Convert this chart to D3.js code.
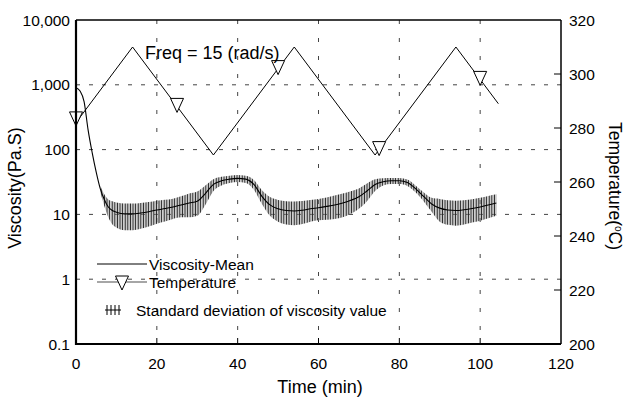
<!DOCTYPE html>
<html>
<head>
<meta charset="utf-8">
<script src="https://cdn.jsdelivr.net/npm/d3@7/dist/d3.min.js"></script>
<style>
  html, body { margin: 0; padding: 0; background: #fff; }
  svg { display: block; font-family: "Liberation Sans", Arial, sans-serif; }
</style>
</head>
<body>
<svg id="chart" width="626" height="397"></svg>
<script>
// Time samples (min) for the viscosity series
const timeMin = [0,1,2,3,4,5,6,7,8,9,10,12,14,16,18,20,22,24,26,28,30,32,34,36,38,40,42,44,46,48,50,52,54,56,58,60,62,64,66,68,70,72,74,76,78,80,82,84,86,88,90,92,94,96,98,100,102,104];
// Mean viscosity (Pa.S)
const viscMean = [900,800,550,200,90,45,25,17,13,11.5,10.8,10.2,10.2,10.5,11,11.7,12.3,13,14,15,16,21,29,33,35,36,35,29,19,14,12.2,11.5,11.3,11.6,12.2,12.7,13.3,14,15,16.5,18.7,23,29,32,33,33,31,25,19,14.5,12.5,11.7,11.5,11.8,12.3,13,14,15];
// Standard deviation of viscosity (Pa.S)
const viscSD = [0,0,0,0,0,0,3,3.5,4,4.5,4.5,4.5,4.5,4.5,4.5,4.5,4.5,4.5,5,6,6.5,7,6,5,4.5,4.5,4.5,5,4.5,4.5,4.5,4.5,4.5,4.5,4.5,4.6,5,5.5,6,6.3,6.5,7,6,4,3.5,3.5,3.5,3,3,3.5,4.8,4.8,4.8,4.8,4.8,5,5.3,5.5];

// Temperature programme: triangle ramp (min, °C)
const tempTime = [0,14,34,54,74,94,104.5];
const tempVal  = [282,310,270,310,270,310,289];
// Temperature marker readings
const markTime = [0,25,50,75,100];
const markTemp = [283,288,302,272,298];

const xTicks = [0,20,40,60,80,100,120];
const yLeftTicks = [0.1,1,10,100,1000,10000];
const yRightTicks = [200,220,240,260,280,300,320];

const svg = d3.select("#chart");
const L = 76, R = 561, T = 20, B = 344;

const x = d3.scaleLinear().domain([0,120]).range([L,R]);
const yV = d3.scaleLog().domain([0.1,10000]).range([B,T]);
const yT = d3.scaleLinear().domain([200,320]).range([B,T]);

// vertical hatch pattern for the deviation band
const defs = svg.append("defs");
const pat = defs.append("pattern").attr("id","hatch")
  .attr("patternUnits","userSpaceOnUse").attr("width",2.6).attr("height",10);
pat.append("rect").attr("x",0).attr("y",0).attr("width",0.9).attr("height",10).attr("fill","#222");
pat.append("rect").attr("x",1.4).attr("y",0).attr("width",0.8).attr("height",10).attr("fill","#8a8a8a");

// gridlines
const grid = svg.append("g");
grid.selectAll(".hg").data(yLeftTicks.slice(1,-1)).join("line")
  .attr("x1",L).attr("x2",R).attr("y1",d=>yV(d)).attr("y2",d=>yV(d))
  .attr("stroke","#444").attr("stroke-width",1).attr("stroke-dasharray","4,9");
grid.selectAll(".vg").data(xTicks.slice(1,-1)).join("line")
  .attr("x1",d=>x(d)).attr("x2",d=>x(d)).attr("y1",T).attr("y2",B)
  .attr("stroke","#444").attr("stroke-width",1).attr("stroke-dasharray","4,14");

// deviation band
const bandData = timeMin.map((t,i)=>({t, m:viscMean[i], s:viscSD[i]})).filter(d=>d.s>0);
const band = d3.area()
  .x(d=>x(d.t))
  .y0(d=>yV(Math.max(0.1,d.m-d.s)))
  .y1(d=>yV(d.m+d.s))
  .curve(d3.curveMonotoneX);
svg.append("path").datum(bandData).attr("d",band).attr("fill","url(#hatch)");

// mean viscosity
const meanLine = d3.line().x((d,i)=>x(timeMin[i])).y(d=>yV(d)).curve(d3.curveMonotoneX);
svg.append("path").datum(viscMean).attr("d",meanLine)
  .attr("fill","none").attr("stroke","#000").attr("stroke-width",1.1);

// temperature ramp
const tLine = d3.line().x((d,i)=>x(tempTime[i])).y(d=>yT(d));
svg.append("path").datum(tempVal).attr("d",tLine)
  .attr("fill","none").attr("stroke","#000").attr("stroke-width",1);

// down-pointing triangle markers
function tri(cx, cy){
  return `M${cx-6.5},${cy-8}L${cx+6.5},${cy-8}L${cx},${cy+6}Z`;
}
svg.selectAll(".mk").data(markTime).join("path")
  .attr("d",(d,i)=>tri(x(d), yT(markTemp[i])))
  .attr("fill","#fff").attr("stroke","#000").attr("stroke-width",1);

// ticks inside the frame
svg.selectAll(".bt").data(xTicks.slice(1,-1)).join("line")
  .attr("x1",d=>x(d)).attr("x2",d=>x(d)).attr("y1",B).attr("y2",B-6)
  .attr("stroke","#000").attr("stroke-width",1);
svg.selectAll(".rt").data(yRightTicks.slice(1,-1)).join("line")
  .attr("x1",R).attr("x2",R-7).attr("y1",d=>yT(d)).attr("y2",d=>yT(d))
  .attr("stroke","#000").attr("stroke-width",1);

// frame
svg.append("line").attr("x1",L).attr("x2",R).attr("y1",T).attr("y2",T).attr("stroke","#000").attr("stroke-width",1.5);
svg.append("line").attr("x1",R).attr("x2",R).attr("y1",T).attr("y2",B).attr("stroke","#000").attr("stroke-width",1.5);
svg.append("line").attr("x1",L).attr("x2",R).attr("y1",B).attr("y2",B).attr("stroke","#000").attr("stroke-width",2);
svg.append("line").attr("x1",L).attr("x2",L).attr("y1",T).attr("y2",B+1).attr("stroke","#000").attr("stroke-width",2.2);

// tick labels
const fmt = d3.format(",");
svg.selectAll(".yl").data(yLeftTicks).join("text")
  .attr("x",70).attr("y",d=>yV(d)+5.5).attr("text-anchor","end")
  .attr("font-size",15.5).text(d=>d<1?"0.1":fmt(d));
svg.selectAll(".yr").data(yRightTicks).join("text")
  .attr("x",569).attr("y",d=>yT(d)+5.5).attr("text-anchor","start")
  .attr("font-size",15.5).text(d=>d);
svg.selectAll(".xl").data(xTicks).join("text")
  .attr("x",d=>x(d)).attr("y",368.5).attr("text-anchor","middle")
  .attr("font-size",15.5).text(d=>d);

// axis titles
svg.append("text").attr("x",320).attr("y",393).attr("text-anchor","middle")
  .attr("font-size",18).text("Time (min)");
svg.append("text").attr("transform","translate(21,188) rotate(-90)")
  .attr("text-anchor","middle").attr("font-size",18).text("Viscosity(Pa.S)");
const rt = svg.append("text").attr("transform","translate(609,186) rotate(90)")
  .attr("text-anchor","middle").attr("font-size",17.5);
rt.append("tspan").text("Temperature(");
rt.append("tspan").attr("font-size",10).attr("dy",-6).text("o");
rt.append("tspan").attr("dy",6).text("C)");

// annotation
svg.append("text").attr("x",145).attr("y",58.5).attr("font-size",18).text("Freq = 15 (rad/s)");

// legend
const lg = svg.append("g");
lg.append("line").attr("x1",97).attr("x2",147).attr("y1",264).attr("y2",264).attr("stroke","#000").attr("stroke-width",1);
lg.append("text").attr("x",149).attr("y",270).attr("font-size",15.5).text("Viscosity-Mean");
lg.append("line").attr("x1",97).attr("x2",147).attr("y1",282).attr("y2",282).attr("stroke","#888").attr("stroke-width",1.5);
lg.append("path").attr("d",tri(122,284)).attr("fill","#fff").attr("stroke","#000").attr("stroke-width",1);
lg.append("text").attr("x",149).attr("y",288).attr("font-size",15.5).text("Temperature");
lg.append("line").attr("x1",105).attr("x2",121).attr("y1",310).attr("y2",310).attr("stroke","#000").attr("stroke-width",1);
[107,111,115,119].forEach(px=>{
  lg.append("line").attr("x1",px).attr("x2",px).attr("y1",305).attr("y2",315).attr("stroke","#000").attr("stroke-width",1);
});
lg.append("text").attr("x",136).attr("y",315.5).attr("font-size",15.5).text("Standard deviation of viscosity value");
</script>
</body>
</html>
